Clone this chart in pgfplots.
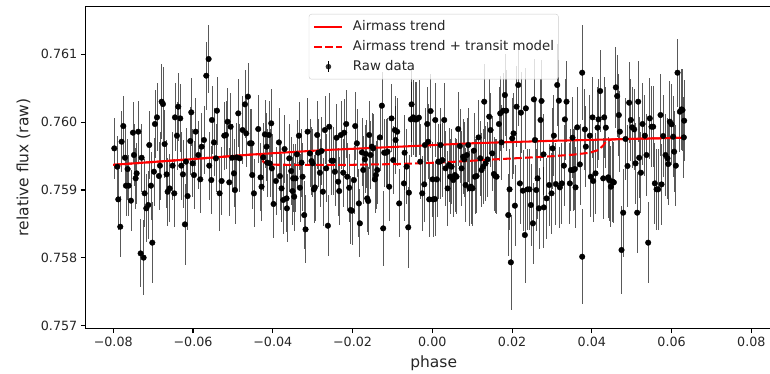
\documentclass[border=0pt]{standalone}
\usepackage{fontspec}
\setmainfont{DejaVu Sans}
\usepackage{pgfplots}
\pgfplotsset{compat=1.18}
\usepackage{pgfplotstable}

\pgfplotsset{
  linelegend/.style={legend image code/.code={\draw[##1] (0bp,0bp) -- (28bp,0bp);}},
  rawlegend/.style={legend image code/.code={
    \path[draw=none, fill=none] (0bp,0bp) -- (28bp,0bp);
    \draw[black, line width=0.9bp, fill=none] (14bp,-5.3bp) -- (14bp,5.3bp);
    \fill[black, draw=none] (14bp,0bp) circle (2.8bp);}},
}

\pgfplotstableread{
x y e
-0.07973 0.759614 0.00045
-0.07898 0.759344 0.00045
-0.07873 0.758862 0.00045
-0.07823 0.758459 0.00045
-0.07789 0.759712 0.00045
-0.07747 0.759943 0.00045
-0.07706 0.759476 0.00045
-0.07681 0.759064 0.00045
-0.07639 0.759309 0.00045
-0.07614 0.759064 0.00045
-0.07555 0.758843 0.00045
-0.07505 0.759845 0.00045
-0.07480 0.759516 0.00045
-0.07438 0.759172 0.00045
-0.07413 0.759246 0.00045
-0.07371 0.759860 0.00045
-0.07313 0.758066 0.00050
-0.07288 0.759476 0.00050
-0.07238 0.758003 0.00055
-0.07213 0.758951 0.00050
-0.07171 0.758730 0.00050
-0.07121 0.758779 0.00050
-0.07096 0.759663 0.00050
-0.07054 0.759064 0.00050
-0.07020 0.758224 0.00060
-0.06979 0.759270 0.00050
-0.06954 0.759973 0.00050
-0.06903 0.760071 0.00050
-0.06853 0.759206 0.00050
-0.06828 0.759359 0.00050
-0.06786 0.760302 0.00055
-0.06753 0.760267 0.00055
-0.06711 0.759678 0.00050
-0.06661 0.759231 0.00050
-0.06636 0.758975 0.00050
-0.06586 0.759024 0.00050
-0.06511 0.759359 0.00050
-0.06469 0.758951 0.00050
-0.06452 0.760071 0.00050
-0.06402 0.759801 0.00050
-0.06369 0.760228 0.00050
-0.06319 0.760056 0.00050
-0.06293 0.759359 0.00050
-0.06252 0.759231 0.00050
-0.06202 0.758494 0.00060
-0.06176 0.759418 0.00050
-0.06135 0.758911 0.00050
-0.06068 0.759722 0.00050
-0.06043 0.760145 0.00050
-0.06009 0.759393 0.00050
-0.05976 0.759221 0.00050
-0.05934 0.759860 0.00050
-0.05867 0.759516 0.00050
-0.05817 0.759157 0.00050
-0.05784 0.759639 0.00050
-0.05725 0.759737 0.00050
-0.05667 0.760685 0.00050
-0.05608 0.760931 0.00050
-0.05592 0.759359 0.00050
-0.05541 0.759147 0.00050
-0.05525 0.760032 0.00050
-0.05475 0.759702 0.00050
-0.05424 0.759467 0.00050
-0.05399 0.760169 0.00050
-0.05333 0.758951 0.00055
-0.05282 0.759133 0.00050
-0.05216 0.759801 0.00050
-0.05174 0.759811 0.00050
-0.05132 0.760007 0.00050
-0.05090 0.759113 0.00050
-0.05057 0.759933 0.00050
-0.05015 0.759476 0.00050
-0.04973 0.759246 0.00050
-0.04948 0.759000 0.00050
-0.04906 0.759481 0.00050
-0.04865 0.760130 0.00050
-0.04831 0.759467 0.00050
-0.04756 0.759884 0.00050
-0.04697 0.760263 0.00050
-0.04664 0.759835 0.00050
-0.04622 0.760376 0.00050
-0.04572 0.759688 0.00050
-0.04530 0.759688 0.00050
-0.04514 0.759221 0.00050
-0.04472 0.758951 0.00050
-0.04364 0.759899 0.00050
-0.04306 0.759187 0.00050
-0.04281 0.759049 0.00050
-0.04239 0.759481 0.00050
-0.04197 0.759820 0.00050
-0.04155 0.759639 0.00050
-0.04138 0.759403 0.00050
-0.04097 0.759811 0.00050
-0.04072 0.759393 0.00050
-0.04038 0.759983 0.00050
-0.04022 0.759319 0.00050
-0.03980 0.758794 0.00050
-0.03921 0.759133 0.00050
-0.03846 0.759702 0.00050
-0.03821 0.759206 0.00050
-0.03779 0.759024 0.00050
-0.03737 0.758853 0.00050
-0.03704 0.759604 0.00050
-0.03654 0.758877 0.00050
-0.03645 0.758730 0.00050
-0.03587 0.759467 0.00050
-0.03537 0.759280 0.00050
-0.03503 0.758985 0.00050
-0.03487 0.759172 0.00050
-0.03462 0.758902 0.00050
-0.03428 0.759172 0.00050
-0.03395 0.759526 0.00050
-0.03345 0.759801 0.00050
-0.03320 0.759034 0.00050
-0.03278 0.759403 0.00050
-0.03253 0.759196 0.00050
-0.03211 0.758631 0.00050
-0.03178 0.758420 0.00050
-0.03127 0.759860 0.00050
-0.03069 0.759540 0.00050
-0.03027 0.759427 0.00050
-0.03002 0.759393 0.00050
-0.02969 0.759010 0.00050
-0.02944 0.759039 0.00050
-0.02885 0.759811 0.00050
-0.02860 0.759550 0.00050
-0.02818 0.759255 0.00050
-0.02776 0.759575 0.00050
-0.02743 0.758975 0.00050
-0.02693 0.759884 0.00050
-0.02659 0.759319 0.00050
-0.02618 0.758474 0.00045
-0.02584 0.759933 0.00050
-0.02526 0.759432 0.00050
-0.02484 0.759432 0.00050
-0.02442 0.759270 0.00050
-0.02400 0.759771 0.00050
-0.02359 0.759123 0.00050
-0.02334 0.758985 0.00050
-0.02292 0.759811 0.00050
-0.02233 0.759255 0.00050
-0.02208 0.759845 0.00050
-0.02158 0.759973 0.00050
-0.02133 0.759196 0.00050
-0.02083 0.759034 0.00050
-0.02049 0.758705 0.00050
-0.02016 0.758695 0.00050
-0.01966 0.759147 0.00050
-0.01933 0.759943 0.00050
-0.01891 0.759688 0.00050
-0.01841 0.758803 0.00050
-0.01816 0.758509 0.00050
-0.01765 0.759555 0.00050
-0.01732 0.759295 0.00050
-0.01690 0.759452 0.00050
-0.01665 0.759531 0.00050
-0.01632 0.758877 0.00050
-0.01607 0.758838 0.00050
-0.01582 0.759811 0.00050
-0.01548 0.759516 0.00050
-0.01515 0.759639 0.00050
-0.01481 0.759614 0.00050
-0.01439 0.759157 0.00050
-0.01414 0.759221 0.00050
-0.01381 0.759295 0.00050
-0.01314 0.759776 0.00050
-0.01264 0.760243 0.00050
-0.01231 0.758435 0.00055
-0.01206 0.759550 0.00050
-0.01164 0.759550 0.00050
-0.01122 0.759565 0.00050
-0.01080 0.759049 0.00050
-0.01022 0.760056 0.00050
-0.00980 0.759442 0.00050
-0.00938 0.759884 0.00050
-0.00921 0.759737 0.00050
-0.00880 0.759860 0.00050
-0.00830 0.758803 0.00050
-0.00712 0.759098 0.00055
-0.00695 0.759550 0.00055
-0.00645 0.759344 0.00055
-0.00603 0.758450 0.00060
-0.00587 0.758961 0.00055
-0.00537 0.760041 0.00055
-0.00520 0.760263 0.00055
-0.00478 0.760071 0.00055
-0.00436 0.760041 0.00055
-0.00394 0.760041 0.00055
-0.00336 0.760066 0.00055
-0.00302 0.759418 0.00055
-0.00252 0.758951 0.00055
-0.00202 0.759083 0.00055
-0.00185 0.759663 0.00055
-0.00127 0.759973 0.00055
-0.00102 0.759712 0.00055
-0.00077 0.758862 0.00055
-0.00043 0.760164 0.00055
0.00007 0.759157 0.00055
0.00023 0.758862 0.00055
0.00065 0.758867 0.00055
0.00074 0.760032 0.00055
0.00115 0.759157 0.00055
0.00149 0.759418 0.00055
0.00191 0.759418 0.00055
0.00207 0.759663 0.00055
0.00257 0.759442 0.00055
0.00299 0.760032 0.00055
0.00333 0.759319 0.00055
0.00383 0.759024 0.00055
0.00416 0.759368 0.00055
0.00450 0.759196 0.00055
0.00483 0.759344 0.00055
0.00525 0.759147 0.00055
0.00567 0.759221 0.00055
0.00608 0.759196 0.00055
0.00650 0.759899 0.00055
0.00692 0.759648 0.00055
0.00734 0.759319 0.00055
0.00775 0.759491 0.00055
0.00801 0.759452 0.00055
0.00834 0.759074 0.00055
0.00867 0.759516 0.00055
0.00901 0.759663 0.00055
0.00934 0.759024 0.00055
0.00968 0.759049 0.00055
0.01009 0.759024 0.00055
0.01043 0.759580 0.00055
0.01068 0.759196 0.00055
0.01110 0.759206 0.00055
0.01160 0.759776 0.00055
0.01202 0.759467 0.00055
0.01235 0.759295 0.00055
0.01277 0.759344 0.00055
0.01302 0.760302 0.00055
0.01335 0.759393 0.00055
0.01386 0.759452 0.00055
0.01427 0.760081 0.00055
0.01461 0.759884 0.00055
0.01503 0.759540 0.00055
0.01544 0.759236 0.00055
0.01578 0.759206 0.00055
0.01611 0.759196 0.00055
0.01670 0.759973 0.00055
0.01703 0.760130 0.00055
0.01736 0.759702 0.00055
0.01778 0.760169 0.00055
0.01820 0.760400 0.00060
0.01853 0.760169 0.00060
0.01904 0.758631 0.00060
0.01937 0.759010 0.00060
0.01970 0.757934 0.00070
0.02004 0.759761 0.00060
0.02037 0.759835 0.00060
0.02071 0.758769 0.00060
0.02112 0.760228 0.00060
0.02154 0.760548 0.00060
0.02196 0.759098 0.00060
0.02221 0.760140 0.00060
0.02271 0.758990 0.00060
0.02321 0.758337 0.00070
0.02346 0.760204 0.00060
0.02388 0.759010 0.00060
0.02438 0.759010 0.00060
0.02472 0.758779 0.00060
0.02522 0.758509 0.00060
0.02547 0.760336 0.00060
0.02572 0.759737 0.00060
0.02606 0.759000 0.00060
0.02639 0.759172 0.00060
0.02672 0.758730 0.00060
0.02714 0.760032 0.00060
0.02739 0.760312 0.00060
0.02789 0.759526 0.00060
0.02797 0.758744 0.00060
0.02864 0.758877 0.00060
0.02931 0.759074 0.00060
0.02989 0.758951 0.00060
0.03015 0.759614 0.00060
0.03048 0.759801 0.00060
0.03098 0.759088 0.00060
0.03132 0.760548 0.00060
0.03173 0.760317 0.00060
0.03198 0.759039 0.00060
0.03248 0.759098 0.00060
0.03299 0.759359 0.00060
0.03324 0.760041 0.00060
0.03365 0.760302 0.00060
0.03449 0.759098 0.00060
0.03474 0.759295 0.00060
0.03516 0.759771 0.00060
0.03533 0.759295 0.00060
0.03574 0.759309 0.00060
0.03591 0.759039 0.00060
0.03633 0.759924 0.00060
0.03700 0.759378 0.00060
0.03758 0.760729 0.00070
0.03758 0.758017 0.00070
0.03825 0.759894 0.00060
0.03850 0.759639 0.00060
0.03950 0.759801 0.00060
0.03975 0.759196 0.00060
0.04017 0.760071 0.00060
0.04034 0.759133 0.00060
0.04092 0.759246 0.00060
0.04143 0.759919 0.00060
0.04168 0.760041 0.00060
0.04209 0.760459 0.00060
0.04285 0.759172 0.00060
0.04310 0.760071 0.00060
0.04351 0.759919 0.00060
0.04410 0.759187 0.00060
0.04435 0.759147 0.00060
0.04477 0.759049 0.00060
0.04519 0.759123 0.00060
0.04552 0.759113 0.00060
0.04602 0.760513 0.00060
0.04636 0.760385 0.00060
0.04677 0.760105 0.00060
0.04702 0.759860 0.00060
0.04744 0.758116 0.00065
0.04786 0.758666 0.00065
0.04844 0.759752 0.00060
0.04895 0.759354 0.00060
0.04936 0.760287 0.00060
0.04978 0.760032 0.00060
0.05012 0.759924 0.00060
0.05062 0.759894 0.00060
0.05095 0.759393 0.00060
0.05137 0.758666 0.00060
0.05162 0.760302 0.00060
0.05187 0.759476 0.00060
0.05229 0.759255 0.00060
0.05271 0.759973 0.00060
0.05329 0.759801 0.00060
0.05371 0.759516 0.00060
0.05413 0.758224 0.00060
0.05454 0.760056 0.00060
0.05496 0.759933 0.00060
0.05538 0.759933 0.00060
0.05580 0.759098 0.00060
0.05622 0.759010 0.00060
0.05663 0.759010 0.00060
0.05722 0.760105 0.00060
0.05747 0.759083 0.00060
0.05789 0.759796 0.00060
0.05847 0.759516 0.00060
0.05897 0.759467 0.00060
0.05914 0.759383 0.00060
0.05956 0.760007 0.00060
0.05998 0.759968 0.00060
0.06039 0.759786 0.00060
0.06064 0.759565 0.00060
0.06106 0.759359 0.00060
0.06148 0.760729 0.00050
0.06207 0.760154 0.00060
0.06248 0.760189 0.00060
0.06273 0.760179 0.00060
0.06307 0.759776 0.00060
0.06315 0.760022 0.00060
}\rawdata

\begin{document}
\begin{tikzpicture}
\begin{axis}[
  name=ax,
  scale only axis,
  width=696bp, height=321.6bp,
  xmin=-0.0869, xmax=0.0876,
  ymin=0.756962, ymax=0.761702,
  xtick={-0.08,-0.06,-0.04,-0.02,0,0.02,0.04,0.06,0.08},
  xticklabels={−0.08,−0.06,−0.04,−0.02,0.00,0.02,0.04,0.06,0.08},
  ytick={0.757,0.758,0.759,0.760,0.761},
  yticklabels={0.757,0.758,0.759,0.760,0.761},
  scaled ticks=false,
  /pgf/number format/assume math mode=true,
  tick align=outside, tick pos=left,
  major tick length=4.9bp,
  tick style={black, line width=1.1bp},
  axis line style={black, line width=1.1bp},
  tick label style={font=\fontsize{12.7bp}{15bp}\selectfont, text=black!85},
  xlabel={phase}, ylabel={relative flux (raw)},
  label style={font=\fontsize{15.5bp}{18bp}\selectfont, text=black!85},
  xlabel style={at={(axis description cs:0.5,-0.1225)}, anchor=base},
  ylabel style={at={(axis description cs:-0.0825,0.5)}, anchor=base, rotate=0},
  legend cell align=left,
  legend style={at={(axis description cs:0.5,1)}, anchor=north, yshift=-7.3bp,
    draw=black!20, rounded corners=2.5bp, fill=white, fill opacity=0.8, text opacity=1,
    font=\fontsize{13.3bp}{16bp}\selectfont, text=black!85,
    inner xsep=4.4bp, inner ysep=2.5bp, row sep=0bp,
    nodes={inner xsep=0bp, inner ysep=1.75bp, text height=12bp, text depth=4.5bp},
    /tikz/every odd column/.append style={column sep=9.5bp}},
]
\addplot[only marks, mark=*, mark size=2.8bp, black, forget plot,
  error bars/.cd, y dir=both, y explicit, error mark=none,
  error bar style={line width=0.75bp, black, opacity=0.65}]
  table[x=x, y=y, y error=e] {\rawdata};

\addplot[red, line width=2.05bp, line join=round, linelegend] coordinates {
  (-0.0800,0.759371) (-0.0633,0.759442) (-0.0445,0.759526) (-0.0270,0.759589)
  (-0.0081,0.759639) (0.0094,0.759688) (0.0282,0.759722) (0.0452,0.759747)
  (0.0632,0.759771)};
\addlegendentry{Airmass trend}

\addplot[red, line width=2.05bp, dash pattern=on 7.7bp off 3.3bp, linelegend] coordinates {
  (-0.0800,0.759371) (-0.0633,0.759442) (-0.0445,0.759526) (-0.0432,0.759530)
  (-0.0424,0.759418) (-0.0411,0.759383) (-0.0395,0.759373) (-0.0300,0.759370)
  (-0.0200,0.759372) (-0.0086,0.759383) (0.0031,0.759408) (0.0157,0.759452)
  (0.0282,0.759491) (0.0353,0.759521) (0.0395,0.759550) (0.0416,0.759589)
  (0.0428,0.759653) (0.0437,0.759727) (0.0452,0.759747) (0.0632,0.759771)};
\addlegendentry{Airmass trend + transit model}

\addlegendimage{draw=none, rawlegend}
\addlegendentry{Raw data}
\end{axis}
\pgfresetboundingbox
\path[use as bounding box] ([xshift=-85.7bp,yshift=-45.7bp]ax.south west) rectangle ([xshift=684.3bp,yshift=6.7bp]ax.north west);
\end{tikzpicture}
\end{document}
